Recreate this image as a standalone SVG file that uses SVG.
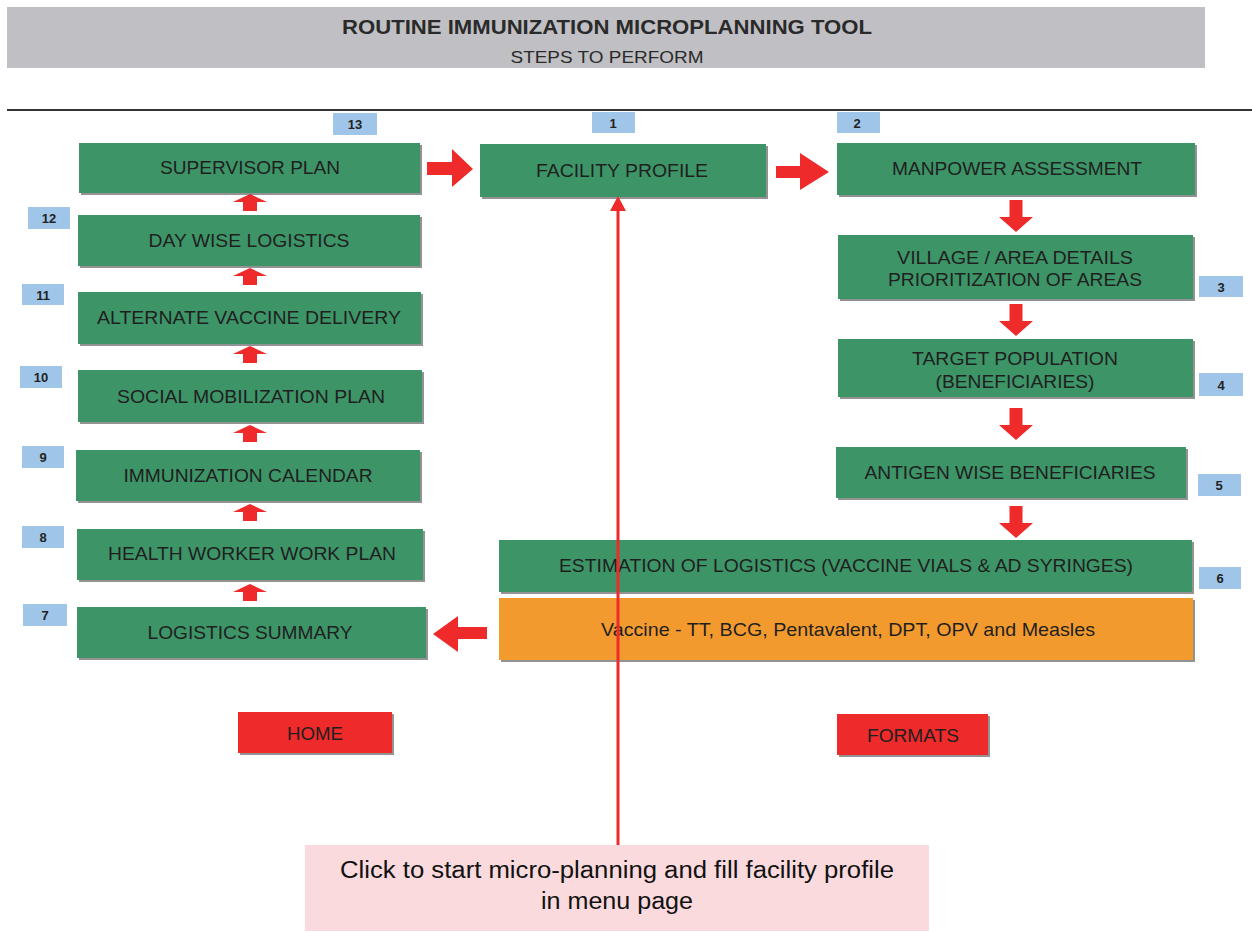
<svg xmlns="http://www.w3.org/2000/svg" width="1252" height="932" viewBox="0 0 1252 932">
<style>
.box{fill:#3D9467}
.shd{fill:#3a3a3a;opacity:0.55}
.lbl{font-family:"Liberation Sans",Arial,sans-serif;font-size:19px;fill:#1f1f1f;text-anchor:middle}
.badge{fill:#9FC5E8}
.num{font-family:"Liberation Sans",Arial,sans-serif;font-size:13px;font-weight:bold;fill:#222;text-anchor:middle}
.arr{fill:#EE2A2A}
.btn{fill:#EE2A2A}
</style>
<defs>
<path id="up" d="M0,0 L17,8 L7,8 L7,17 L-7,17 L-7,8 L-17,8 Z"/>
<path id="down" d="M0,0 L-17,-15 L-6.5,-15 L-6.5,-32 L6.5,-32 L6.5,-15 L17,-15 Z"/>
</defs>
<rect x="0" y="0" width="1252" height="932" fill="#ffffff"/>
<g id="header">
<rect x="7" y="7" width="1198" height="61" fill="#C0C0C4"/>
<text x="607" y="34" font-family="Liberation Sans,Arial,sans-serif" font-size="20" font-weight="bold" fill="#2a2a2a" text-anchor="middle" textLength="530" lengthAdjust="spacingAndGlyphs">ROUTINE IMMUNIZATION MICROPLANNING TOOL</text>
<text x="607" y="63" font-family="Liberation Sans,Arial,sans-serif" font-size="17" fill="#2a2a2a" text-anchor="middle" textLength="193" lengthAdjust="spacingAndGlyphs">STEPS TO PERFORM</text>
<line x1="7" y1="110" x2="1252" y2="110" stroke="#333" stroke-width="2"/>
</g>
<g id="connectors">
<use href="#up" x="250" y="194" class="arr"/>
<use href="#up" x="250" y="268" class="arr"/>
<use href="#up" x="250" y="346" class="arr"/>
<use href="#up" x="250" y="425" class="arr"/>
<use href="#up" x="250" y="504" class="arr"/>
<use href="#up" x="250" y="584" class="arr"/>
<path class="arr" d="M427,162 L452,162 L452,149 L473,169 L452,187 L452,175 L427,175 Z"/>
<path class="arr" d="M776,166 L800,166 L800,153 L829,172 L800,190 L800,178 L776,178 Z"/>
<use href="#down" x="1016" y="232" class="arr"/>
<use href="#down" x="1016" y="336" class="arr"/>
<use href="#down" x="1016" y="440" class="arr"/>
<use href="#down" x="1016" y="538" class="arr"/>
<path class="arr" d="M487,627 L458,627 L458,616 L433,634 L458,652 L458,639 L487,639 Z"/>
</g>
<g id="n13"><rect x="81" y="145" width="341" height="50" class="shd"/><rect x="79" y="143" width="341" height="50" class="box"/><text x="250" y="174" class="lbl" textLength="180" lengthAdjust="spacingAndGlyphs">SUPERVISOR PLAN</text><rect x="333" y="113" width="44" height="22" class="badge"/><text x="355" y="129" class="num">13</text></g>
<g id="n12"><rect x="80" y="217" width="342" height="51" class="shd"/><rect x="78" y="215" width="342" height="51" class="box"/><text x="249" y="247" class="lbl" textLength="201" lengthAdjust="spacingAndGlyphs">DAY WISE LOGISTICS</text><rect x="28" y="207" width="42" height="22" class="badge"/><text x="49" y="223" class="num">12</text></g>
<g id="n11"><rect x="80" y="294" width="343" height="52" class="shd"/><rect x="78" y="292" width="343" height="52" class="box"/><text x="249" y="324" class="lbl" textLength="304" lengthAdjust="spacingAndGlyphs">ALTERNATE VACCINE DELIVERY</text><rect x="22" y="284" width="42" height="21" class="badge"/><text x="43" y="300" class="num">11</text></g>
<g id="n10"><rect x="80" y="372" width="344" height="52" class="shd"/><rect x="78" y="370" width="344" height="52" class="box"/><text x="251" y="403" class="lbl" textLength="268" lengthAdjust="spacingAndGlyphs">SOCIAL MOBILIZATION PLAN</text><rect x="20" y="366" width="42" height="22" class="badge"/><text x="41" y="382" class="num">10</text></g>
<g id="n9"><rect x="78" y="452" width="344" height="51" class="shd"/><rect x="76" y="450" width="344" height="51" class="box"/><text x="248" y="482" class="lbl" textLength="249" lengthAdjust="spacingAndGlyphs">IMMUNIZATION CALENDAR</text><rect x="22" y="446" width="42" height="22" class="badge"/><text x="43" y="462" class="num">9</text></g>
<g id="n8"><rect x="79" y="531" width="346" height="51" class="shd"/><rect x="77" y="529" width="346" height="51" class="box"/><text x="252" y="560" class="lbl" textLength="288" lengthAdjust="spacingAndGlyphs">HEALTH WORKER WORK PLAN</text><rect x="22" y="526" width="42" height="22" class="badge"/><text x="43" y="542" class="num">8</text></g>
<g id="n7"><rect x="79" y="609" width="349" height="51" class="shd"/><rect x="77" y="607" width="349" height="51" class="box"/><text x="250" y="639" class="lbl" textLength="205" lengthAdjust="spacingAndGlyphs">LOGISTICS SUMMARY</text><rect x="23" y="604" width="44" height="22" class="badge"/><text x="45" y="620" class="num">7</text></g>
<g id="n1"><rect x="482" y="146" width="286" height="53" class="shd"/><rect x="480" y="144" width="286" height="53" class="box"/><text x="622" y="177" class="lbl" textLength="172" lengthAdjust="spacingAndGlyphs">FACILITY PROFILE</text><rect x="592" y="112" width="43" height="21" class="badge"/><text x="613" y="128" class="num">1</text></g>
<g id="n2"><rect x="839" y="145" width="358" height="52" class="shd"/><rect x="837" y="143" width="358" height="52" class="box"/><text x="1017" y="175" class="lbl" textLength="250" lengthAdjust="spacingAndGlyphs">MANPOWER ASSESSMENT</text><rect x="837" y="112" width="43" height="21" class="badge"/><text x="857" y="128" class="num">2</text></g>
<g id="n3"><rect x="840" y="237" width="355" height="64" class="shd"/><rect x="838" y="235" width="355" height="64" class="box"/><text x="1015" y="264" class="lbl" textLength="236" lengthAdjust="spacingAndGlyphs">VILLAGE / AREA DETAILS</text><text x="1015" y="286" class="lbl" textLength="254" lengthAdjust="spacingAndGlyphs">PRIORITIZATION OF AREAS</text><rect x="1199" y="276" width="44" height="21" class="badge"/><text x="1221" y="292" class="num">3</text></g>
<g id="n4"><rect x="840" y="341" width="355" height="58" class="shd"/><rect x="838" y="339" width="355" height="58" class="box"/><text x="1015" y="365" class="lbl" textLength="206" lengthAdjust="spacingAndGlyphs">TARGET POPULATION</text><text x="1015" y="388" class="lbl" textLength="159" lengthAdjust="spacingAndGlyphs">(BENEFICIARIES)</text><rect x="1199" y="373" width="44" height="23" class="badge"/><text x="1221" y="390" class="num">4</text></g>
<g id="n5"><rect x="838" y="449" width="350" height="51" class="shd"/><rect x="836" y="447" width="350" height="51" class="box"/><text x="1010" y="479" class="lbl" textLength="291" lengthAdjust="spacingAndGlyphs">ANTIGEN WISE BENEFICIARIES</text><rect x="1198" y="474" width="43" height="22" class="badge"/><text x="1219" y="490" class="num">5</text></g>
<g id="n6"><rect x="501" y="542" width="693" height="52" class="shd"/><rect x="499" y="540" width="693" height="52" class="box"/><text x="846" y="572" class="lbl" textLength="574" lengthAdjust="spacingAndGlyphs">ESTIMATION OF LOGISTICS (VACCINE VIALS &amp; AD SYRINGES)</text><rect x="1199" y="567" width="42" height="22" class="badge"/><text x="1220" y="583" class="num">6</text></g>
<g id="vaccine"><rect x="501" y="600" width="694" height="62" class="shd"/><rect x="499" y="598" width="694" height="62" fill="#F39A2E"/><text x="848" y="636" class="lbl" font-size="18" textLength="494" lengthAdjust="spacingAndGlyphs">Vaccine - TT, BCG, Pentavalent, DPT, OPV and Measles</text></g>
<g id="home"><rect x="240" y="714" width="154" height="41" class="shd"/><rect x="238" y="712" width="154" height="41" class="btn"/><text x="315" y="740" class="lbl" font-size="18" textLength="56" lengthAdjust="spacingAndGlyphs">HOME</text></g>
<g id="formats"><rect x="839" y="716" width="151" height="41" class="shd"/><rect x="837" y="714" width="151" height="41" class="btn"/><text x="913" y="742" class="lbl" font-size="18" textLength="92" lengthAdjust="spacingAndGlyphs">FORMATS</text></g>
<g id="callout-link">
<line x1="618" y1="210" x2="618" y2="845" stroke="#EE2A2A" stroke-width="3"/>
<path d="M618,196 L626,211 L610,211 Z" fill="#EE2A2A"/>
</g>
<g id="callout">
<rect x="305" y="845" width="624" height="86" fill="#FADADD"/>
<text x="617" y="878" font-family="Liberation Sans,Arial,sans-serif" font-size="23" fill="#111" text-anchor="middle" textLength="554" lengthAdjust="spacingAndGlyphs">Click to start micro-planning and fill facility profile</text>
<text x="617" y="909" font-family="Liberation Sans,Arial,sans-serif" font-size="23" fill="#111" text-anchor="middle" textLength="152" lengthAdjust="spacingAndGlyphs">in menu page</text>
</g>
</svg>
